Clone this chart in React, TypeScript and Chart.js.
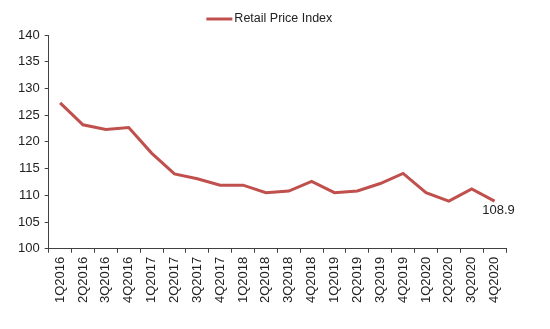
import React, { useEffect, useRef } from "react";
import { Chart, registerables } from "chart.js";

Chart.register(...registerables);

const categories = [
  "1Q2016", "2Q2016", "3Q2016", "4Q2016",
  "1Q2017", "2Q2017", "3Q2017", "4Q2017",
  "1Q2018", "2Q2018", "3Q2018", "4Q2018",
  "1Q2019", "2Q2019", "3Q2019", "4Q2019",
  "1Q2020", "2Q2020", "3Q2020", "4Q2020",
];
const rpiValues = [
  127.3, 123.2, 122.3, 122.7,
  117.9, 114.0, 113.1, 111.9,
  111.9, 110.5, 110.8, 112.6,
  110.5, 110.8, 112.2, 114.1,
  110.5, 108.9, 111.2, 108.9,
];
const seriesName = "Retail Price Index";
const lastLabel = "108.9";

const FONT = "'Liberation Sans', Arial, sans-serif";
const LINE_COLOR = "#C0504D";
const AXIS_COLOR = "#404040";

export default function App() {
  const ref = useRef<HTMLCanvasElement | null>(null);

  useEffect(() => {
    if (!ref.current) return;
    const labelPlugin = {
      id: "lastLabel",
      afterDatasetsDraw(chart: any) {
        const meta = chart.getDatasetMeta(0);
        const pt = meta.data[meta.data.length - 1];
        if (!pt) return;
        const ctx = chart.ctx;
        ctx.save();
        ctx.font = `13px ${FONT}`;
        ctx.fillStyle = "#222";
        ctx.textAlign = "center";
        ctx.textBaseline = "top";
        ctx.fillText(lastLabel, pt.x + 4, pt.y + 3);
        ctx.restore();
      },
    };
    const legendPlugin = {
      id: "customLegend",
      afterDraw(chart: any) {
        const ctx = chart.ctx;
        const ds = chart.data.datasets[0];
        ctx.save();
        ctx.font = `12.5px ${FONT}`;
        const textW = ctx.measureText(ds.label).width;
        const sampleW = 26;
        const gap = 2;
        const total = sampleW + gap + textW;
        const cx = (chart.chartArea.left + chart.chartArea.right) / 2 - 8;
        const x0 = cx - total / 2;
        const y = 19;
        ctx.strokeStyle = ds.borderColor;
        ctx.lineWidth = 3;
        ctx.beginPath();
        ctx.moveTo(x0, y);
        ctx.lineTo(x0 + sampleW, y);
        ctx.stroke();
        ctx.fillStyle = "#222";
        ctx.textAlign = "left";
        ctx.textBaseline = "middle";
        ctx.fillText(ds.label, x0 + sampleW + gap, y);
        ctx.restore();
      },
    };
    const chart = new Chart(ref.current, {
      type: "line",
      data: {
        labels: categories,
        datasets: [
          {
            label: seriesName,
            data: rpiValues,
            borderColor: LINE_COLOR,
            backgroundColor: LINE_COLOR,
            borderWidth: 3,
            pointRadius: 0,
            tension: 0,
          },
        ],
      },
      options: {
        responsive: false,
        animation: false,
        layout: { padding: { left: 13, right: 44, top: 35, bottom: 22 } },
        plugins: {
          legend: { display: false },
          tooltip: { enabled: false },
        },
        scales: {
          x: {
            type: "category",
            offset: true,
            grid: {
              offset: true,
              drawOnChartArea: false,
              drawTicks: true,
              tickLength: 4,
              color: AXIS_COLOR,
            },
            border: { color: AXIS_COLOR, width: 1 },
            ticks: {
              minRotation: 90,
              maxRotation: 90,
              autoSkip: false,
              color: "#222",
              font: { family: FONT, size: 13 },
              padding: 4,
            },
          },
          y: {
            min: 100,
            max: 140,
            grid: {
              drawOnChartArea: false,
              drawTicks: true,
              tickLength: 4,
              color: AXIS_COLOR,
            },
            border: { color: AXIS_COLOR, width: 1 },
            ticks: {
              stepSize: 5,
              color: "#222",
              font: { family: FONT, size: 13 },
              padding: 5,
            },
          },
        },
      },
      plugins: [labelPlugin, legendPlugin],
    });
    return () => chart.destroy();
  }, []);

  return (
    <div style={{ position: "fixed", left: 0, top: 0, width: 550, height: 329, background: "#fff" }}>
      <canvas ref={ref} width={550} height={329} style={{ display: "block" }} />
    </div>
  );
}
